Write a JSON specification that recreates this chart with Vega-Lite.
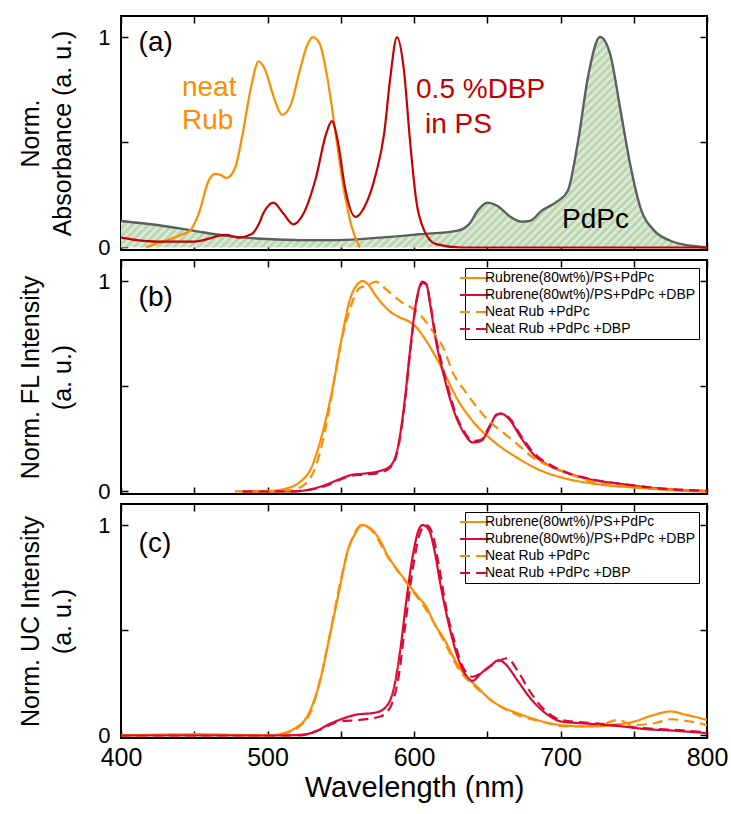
{
  "$schema": "https://vega.github.io/schema/vega-lite/v6.json",
  "padding": {"left": 17, "top": 14, "right": 5, "bottom": 5},
  "background": "white",
  "config": {
    "font": "Liberation Sans",
    "view": {"stroke": "black", "strokeWidth": 2},
    "axis": {"grid": false, "domain": false, "tickColor": "black", "tickWidth": 1.5, "tickSize": -7, "labelColor": "black", "titleColor": "black", "labelFont": "Liberation Sans", "titleFont": "Liberation Sans", "titleFontWeight": "normal", "labelFlush": false, "labelOverlap": false},
    "text": {"font": "Liberation Sans"},
    "line": {"strokeWidth": 2.2, "interpolate": "monotone"},
    "area": {"interpolate": "monotone"},
    "legend": {"orient": "top-right", "offset": 8, "strokeColor": "black", "fillColor": "white", "padding": 3, "labelFontSize": 14, "labelLimit": 400, "labelFont": "Liberation Sans", "labelColor": "black", "symbolType": "M-3,0H3", "symbolSize": 100, "symbolStrokeWidth": 2.5, "rowPadding": 3, "labelOffset": 3, "cornerRadius": 0, "strokeWidth": 1}
  },
  "datasets": {
    "rubabs": [
      {"wl": 417, "v": 0}, {"wl": 425, "v": 0.02}, {"wl": 432, "v": 0.035}, {"wl": 439, "v": 0.055}, {"wl": 447, "v": 0.08}, {"wl": 453, "v": 0.16}, {"wl": 460, "v": 0.32}, {"wl": 464, "v": 0.35}, {"wl": 468, "v": 0.345}, {"wl": 472, "v": 0.33}, {"wl": 478, "v": 0.38}, {"wl": 483, "v": 0.54}, {"wl": 489, "v": 0.77}, {"wl": 494, "v": 0.885}, {"wl": 498, "v": 0.85}, {"wl": 505, "v": 0.70}, {"wl": 510, "v": 0.63}, {"wl": 516, "v": 0.68}, {"wl": 522, "v": 0.84}, {"wl": 527, "v": 0.96}, {"wl": 531, "v": 1.0}, {"wl": 535.5, "v": 0.97}, {"wl": 541, "v": 0.80}, {"wl": 546.5, "v": 0.54}, {"wl": 552, "v": 0.28}, {"wl": 557.6, "v": 0.095}, {"wl": 563, "v": 0.0}
    ],
    "dbpabs": [
      {"wl": 400, "v": 0.047}, {"wl": 411, "v": 0.035}, {"wl": 425, "v": 0.028}, {"wl": 450, "v": 0.028}, {"wl": 461, "v": 0.044}, {"wl": 466, "v": 0.055}, {"wl": 472, "v": 0.06}, {"wl": 480, "v": 0.047}, {"wl": 489, "v": 0.063}, {"wl": 494, "v": 0.11}, {"wl": 497, "v": 0.16}, {"wl": 504, "v": 0.213}, {"wl": 511, "v": 0.16}, {"wl": 517.6, "v": 0.11}, {"wl": 524.5, "v": 0.16}, {"wl": 533, "v": 0.33}, {"wl": 540, "v": 0.54}, {"wl": 544, "v": 0.60}, {"wl": 548, "v": 0.505}, {"wl": 553, "v": 0.28}, {"wl": 560, "v": 0.145}, {"wl": 566, "v": 0.19}, {"wl": 574, "v": 0.35}, {"wl": 579.6, "v": 0.54}, {"wl": 583.7, "v": 0.80}, {"wl": 588.4, "v": 1.0}, {"wl": 593, "v": 0.85}, {"wl": 597.5, "v": 0.49}, {"wl": 601.6, "v": 0.22}, {"wl": 607, "v": 0.08}, {"wl": 615, "v": 0.016}, {"wl": 632, "v": 0}, {"wl": 800, "v": 0}
    ],
    "pdpcabs": [
      {"wl": 400, "v": 0.126}, {"wl": 425, "v": 0.107}, {"wl": 450, "v": 0.079}, {"wl": 472, "v": 0.055}, {"wl": 500, "v": 0.04}, {"wl": 522, "v": 0.035}, {"wl": 549, "v": 0.035}, {"wl": 577, "v": 0.047}, {"wl": 604, "v": 0.063}, {"wl": 629, "v": 0.079}, {"wl": 637.5, "v": 0.11}, {"wl": 644, "v": 0.18}, {"wl": 650, "v": 0.213}, {"wl": 657, "v": 0.197}, {"wl": 665, "v": 0.15}, {"wl": 673, "v": 0.123}, {"wl": 679, "v": 0.126}, {"wl": 687, "v": 0.174}, {"wl": 698, "v": 0.22}, {"wl": 705, "v": 0.27}, {"wl": 712, "v": 0.505}, {"wl": 719, "v": 0.82}, {"wl": 727, "v": 1.0}, {"wl": 734, "v": 0.916}, {"wl": 741, "v": 0.65}, {"wl": 748, "v": 0.38}, {"wl": 754.5, "v": 0.19}, {"wl": 764, "v": 0.08}, {"wl": 775, "v": 0.032}, {"wl": 789, "v": 0.008}, {"wl": 800, "v": 0}
    ],
    "labelsA": [
      {"wl": 412, "v": 0.97, "t": "(a)", "c": "k"},
      {"wl": 441.6, "v": 0.76, "t": "neat", "c": "rub"},
      {"wl": 441.6, "v": 0.60, "t": "Rub", "c": "rub"},
      {"wl": 601.4, "v": 0.75, "t": "0.5 %DBP", "c": "dbp"},
      {"wl": 607.5, "v": 0.58, "t": "in PS", "c": "dbp"},
      {"wl": 701, "v": 0.13, "t": "PdPc", "c": "k2"}
    ],
    "fl": [
      {"s": "Rubrene(80wt%)/PS+PdPc", "wl": 477.7, "v": 0}, {"s": "Rubrene(80wt%)/PS+PdPc", "wl": 499.7, "v": 0.002}, {"s": "Rubrene(80wt%)/PS+PdPc", "wl": 513.5, "v": 0.016}, {"s": "Rubrene(80wt%)/PS+PdPc", "wl": 521.8, "v": 0.043}, {"s": "Rubrene(80wt%)/PS+PdPc", "wl": 530, "v": 0.114}, {"s": "Rubrene(80wt%)/PS+PdPc", "wl": 538, "v": 0.29}, {"s": "Rubrene(80wt%)/PS+PdPc", "wl": 545, "v": 0.51}, {"s": "Rubrene(80wt%)/PS+PdPc", "wl": 550.7, "v": 0.73}, {"s": "Rubrene(80wt%)/PS+PdPc", "wl": 556, "v": 0.905}, {"s": "Rubrene(80wt%)/PS+PdPc", "wl": 561.7, "v": 0.987}, {"s": "Rubrene(80wt%)/PS+PdPc", "wl": 565, "v": 1.0}, {"s": "Rubrene(80wt%)/PS+PdPc", "wl": 568.6, "v": 0.984}, {"s": "Rubrene(80wt%)/PS+PdPc", "wl": 574, "v": 0.93}, {"s": "Rubrene(80wt%)/PS+PdPc", "wl": 582, "v": 0.865}, {"s": "Rubrene(80wt%)/PS+PdPc", "wl": 590.6, "v": 0.826}, {"s": "Rubrene(80wt%)/PS+PdPc", "wl": 596, "v": 0.81}, {"s": "Rubrene(80wt%)/PS+PdPc", "wl": 601.6, "v": 0.78}, {"s": "Rubrene(80wt%)/PS+PdPc", "wl": 607, "v": 0.73}, {"s": "Rubrene(80wt%)/PS+PdPc", "wl": 614, "v": 0.65}, {"s": "Rubrene(80wt%)/PS+PdPc", "wl": 621, "v": 0.557}, {"s": "Rubrene(80wt%)/PS+PdPc", "wl": 629, "v": 0.446}, {"s": "Rubrene(80wt%)/PS+PdPc", "wl": 640, "v": 0.335}, {"s": "Rubrene(80wt%)/PS+PdPc", "wl": 654, "v": 0.24}, {"s": "Rubrene(80wt%)/PS+PdPc", "wl": 670.5, "v": 0.16}, {"s": "Rubrene(80wt%)/PS+PdPc", "wl": 687, "v": 0.098}, {"s": "Rubrene(80wt%)/PS+PdPc", "wl": 701, "v": 0.066}, {"s": "Rubrene(80wt%)/PS+PdPc", "wl": 728, "v": 0.032}, {"s": "Rubrene(80wt%)/PS+PdPc", "wl": 756, "v": 0.016}, {"s": "Rubrene(80wt%)/PS+PdPc", "wl": 783.5, "v": 0.003}, {"s": "Rubrene(80wt%)/PS+PdPc", "wl": 800, "v": 0},
      {"s": "Rubrene(80wt%)/PS+PdPc +DBP", "wl": 483, "v": 0}, {"s": "Rubrene(80wt%)/PS+PdPc +DBP", "wl": 516, "v": 0}, {"s": "Rubrene(80wt%)/PS+PdPc +DBP", "wl": 530, "v": 0.011}, {"s": "Rubrene(80wt%)/PS+PdPc +DBP", "wl": 541, "v": 0.035}, {"s": "Rubrene(80wt%)/PS+PdPc +DBP", "wl": 549, "v": 0.058}, {"s": "Rubrene(80wt%)/PS+PdPc +DBP", "wl": 557.6, "v": 0.079}, {"s": "Rubrene(80wt%)/PS+PdPc +DBP", "wl": 566, "v": 0.085}, {"s": "Rubrene(80wt%)/PS+PdPc +DBP", "wl": 577, "v": 0.098}, {"s": "Rubrene(80wt%)/PS+PdPc +DBP", "wl": 584, "v": 0.122}, {"s": "Rubrene(80wt%)/PS+PdPc +DBP", "wl": 589, "v": 0.21}, {"s": "Rubrene(80wt%)/PS+PdPc +DBP", "wl": 593.4, "v": 0.415}, {"s": "Rubrene(80wt%)/PS+PdPc +DBP", "wl": 597.5, "v": 0.683}, {"s": "Rubrene(80wt%)/PS+PdPc +DBP", "wl": 601.6, "v": 0.905}, {"s": "Rubrene(80wt%)/PS+PdPc +DBP", "wl": 605.8, "v": 0.997}, {"s": "Rubrene(80wt%)/PS+PdPc +DBP", "wl": 608.5, "v": 0.984}, {"s": "Rubrene(80wt%)/PS+PdPc +DBP", "wl": 611, "v": 0.89}, {"s": "Rubrene(80wt%)/PS+PdPc +DBP", "wl": 615, "v": 0.715}, {"s": "Rubrene(80wt%)/PS+PdPc +DBP", "wl": 619.6, "v": 0.573}, {"s": "Rubrene(80wt%)/PS+PdPc +DBP", "wl": 623.7, "v": 0.462}, {"s": "Rubrene(80wt%)/PS+PdPc +DBP", "wl": 629, "v": 0.35}, {"s": "Rubrene(80wt%)/PS+PdPc +DBP", "wl": 634.7, "v": 0.272}, {"s": "Rubrene(80wt%)/PS+PdPc +DBP", "wl": 640, "v": 0.233}, {"s": "Rubrene(80wt%)/PS+PdPc +DBP", "wl": 645.7, "v": 0.24}, {"s": "Rubrene(80wt%)/PS+PdPc +DBP", "wl": 649.9, "v": 0.28}, {"s": "Rubrene(80wt%)/PS+PdPc +DBP", "wl": 656.7, "v": 0.367}, {"s": "Rubrene(80wt%)/PS+PdPc +DBP", "wl": 659.5, "v": 0.37}, {"s": "Rubrene(80wt%)/PS+PdPc +DBP", "wl": 665, "v": 0.343}, {"s": "Rubrene(80wt%)/PS+PdPc +DBP", "wl": 673, "v": 0.256}, {"s": "Rubrene(80wt%)/PS+PdPc +DBP", "wl": 681.5, "v": 0.177}, {"s": "Rubrene(80wt%)/PS+PdPc +DBP", "wl": 692.6, "v": 0.122}, {"s": "Rubrene(80wt%)/PS+PdPc +DBP", "wl": 703.6, "v": 0.09}, {"s": "Rubrene(80wt%)/PS+PdPc +DBP", "wl": 720, "v": 0.058}, {"s": "Rubrene(80wt%)/PS+PdPc +DBP", "wl": 742, "v": 0.035}, {"s": "Rubrene(80wt%)/PS+PdPc +DBP", "wl": 769.7, "v": 0.013}, {"s": "Rubrene(80wt%)/PS+PdPc +DBP", "wl": 800, "v": 0.003},
      {"s": "Neat Rub +PdPc", "wl": 488.7, "v": 0}, {"s": "Neat Rub +PdPc", "wl": 516, "v": 0.006}, {"s": "Neat Rub +PdPc", "wl": 527, "v": 0.043}, {"s": "Neat Rub +PdPc", "wl": 535.5, "v": 0.177}, {"s": "Neat Rub +PdPc", "wl": 542.4, "v": 0.40}, {"s": "Neat Rub +PdPc", "wl": 549, "v": 0.67}, {"s": "Neat Rub +PdPc", "wl": 556, "v": 0.86}, {"s": "Neat Rub +PdPc", "wl": 563, "v": 0.968}, {"s": "Neat Rub +PdPc", "wl": 567, "v": 0.976}, {"s": "Neat Rub +PdPc", "wl": 574, "v": 0.997}, {"s": "Neat Rub +PdPc", "wl": 581, "v": 0.96}, {"s": "Neat Rub +PdPc", "wl": 590.6, "v": 0.905}, {"s": "Neat Rub +PdPc", "wl": 601.6, "v": 0.857}, {"s": "Neat Rub +PdPc", "wl": 612.7, "v": 0.763}, {"s": "Neat Rub +PdPc", "wl": 621, "v": 0.668}, {"s": "Neat Rub +PdPc", "wl": 626, "v": 0.573}, {"s": "Neat Rub +PdPc", "wl": 634.7, "v": 0.478}, {"s": "Neat Rub +PdPc", "wl": 643, "v": 0.40}, {"s": "Neat Rub +PdPc", "wl": 651, "v": 0.335}, {"s": "Neat Rub +PdPc", "wl": 659.5, "v": 0.288}, {"s": "Neat Rub +PdPc", "wl": 670.5, "v": 0.225}, {"s": "Neat Rub +PdPc", "wl": 681.5, "v": 0.16}, {"s": "Neat Rub +PdPc", "wl": 695, "v": 0.114}, {"s": "Neat Rub +PdPc", "wl": 703.6, "v": 0.09}, {"s": "Neat Rub +PdPc", "wl": 720, "v": 0.05}, {"s": "Neat Rub +PdPc", "wl": 742, "v": 0.027}, {"s": "Neat Rub +PdPc", "wl": 769.7, "v": 0.011}, {"s": "Neat Rub +PdPc", "wl": 800, "v": 0.003},
      {"s": "Neat Rub +PdPc +DBP", "wl": 483, "v": 0}, {"s": "Neat Rub +PdPc +DBP", "wl": 516, "v": 0}, {"s": "Neat Rub +PdPc +DBP", "wl": 530, "v": 0.01}, {"s": "Neat Rub +PdPc +DBP", "wl": 541, "v": 0.03}, {"s": "Neat Rub +PdPc +DBP", "wl": 549, "v": 0.055}, {"s": "Neat Rub +PdPc +DBP", "wl": 557.6, "v": 0.075}, {"s": "Neat Rub +PdPc +DBP", "wl": 566, "v": 0.08}, {"s": "Neat Rub +PdPc +DBP", "wl": 577, "v": 0.09}, {"s": "Neat Rub +PdPc +DBP", "wl": 584, "v": 0.115}, {"s": "Neat Rub +PdPc +DBP", "wl": 589, "v": 0.2}, {"s": "Neat Rub +PdPc +DBP", "wl": 593.4, "v": 0.40}, {"s": "Neat Rub +PdPc +DBP", "wl": 597.5, "v": 0.67}, {"s": "Neat Rub +PdPc +DBP", "wl": 601.6, "v": 0.9}, {"s": "Neat Rub +PdPc +DBP", "wl": 605.8, "v": 0.99}, {"s": "Neat Rub +PdPc +DBP", "wl": 608.5, "v": 0.985}, {"s": "Neat Rub +PdPc +DBP", "wl": 611, "v": 0.9}, {"s": "Neat Rub +PdPc +DBP", "wl": 615, "v": 0.73}, {"s": "Neat Rub +PdPc +DBP", "wl": 619.6, "v": 0.59}, {"s": "Neat Rub +PdPc +DBP", "wl": 623.7, "v": 0.48}, {"s": "Neat Rub +PdPc +DBP", "wl": 629, "v": 0.36}, {"s": "Neat Rub +PdPc +DBP", "wl": 634.7, "v": 0.28}, {"s": "Neat Rub +PdPc +DBP", "wl": 640, "v": 0.24}, {"s": "Neat Rub +PdPc +DBP", "wl": 645.7, "v": 0.245}, {"s": "Neat Rub +PdPc +DBP", "wl": 649.9, "v": 0.29}, {"s": "Neat Rub +PdPc +DBP", "wl": 656.7, "v": 0.365}, {"s": "Neat Rub +PdPc +DBP", "wl": 660, "v": 0.37}, {"s": "Neat Rub +PdPc +DBP", "wl": 665, "v": 0.35}, {"s": "Neat Rub +PdPc +DBP", "wl": 673, "v": 0.265}, {"s": "Neat Rub +PdPc +DBP", "wl": 681.5, "v": 0.185}, {"s": "Neat Rub +PdPc +DBP", "wl": 692.6, "v": 0.128}, {"s": "Neat Rub +PdPc +DBP", "wl": 703.6, "v": 0.092}, {"s": "Neat Rub +PdPc +DBP", "wl": 720, "v": 0.06}, {"s": "Neat Rub +PdPc +DBP", "wl": 742, "v": 0.036}, {"s": "Neat Rub +PdPc +DBP", "wl": 769.7, "v": 0.014}, {"s": "Neat Rub +PdPc +DBP", "wl": 800, "v": 0.003}
    ],
    "uc": [
      {"s": "Rubrene(80wt%)/PS+PdPc", "wl": 400, "v": 0}, {"s": "Rubrene(80wt%)/PS+PdPc", "wl": 453, "v": 0.006}, {"s": "Rubrene(80wt%)/PS+PdPc", "wl": 500, "v": 0}, {"s": "Rubrene(80wt%)/PS+PdPc", "wl": 510.7, "v": 0.011}, {"s": "Rubrene(80wt%)/PS+PdPc", "wl": 519, "v": 0.035}, {"s": "Rubrene(80wt%)/PS+PdPc", "wl": 527, "v": 0.09}, {"s": "Rubrene(80wt%)/PS+PdPc", "wl": 535.5, "v": 0.25}, {"s": "Rubrene(80wt%)/PS+PdPc", "wl": 542.4, "v": 0.47}, {"s": "Rubrene(80wt%)/PS+PdPc", "wl": 549, "v": 0.69}, {"s": "Rubrene(80wt%)/PS+PdPc", "wl": 554.8, "v": 0.88}, {"s": "Rubrene(80wt%)/PS+PdPc", "wl": 560, "v": 0.96}, {"s": "Rubrene(80wt%)/PS+PdPc", "wl": 564.5, "v": 1.0}, {"s": "Rubrene(80wt%)/PS+PdPc", "wl": 571, "v": 0.98}, {"s": "Rubrene(80wt%)/PS+PdPc", "wl": 577, "v": 0.925}, {"s": "Rubrene(80wt%)/PS+PdPc", "wl": 582, "v": 0.855}, {"s": "Rubrene(80wt%)/PS+PdPc", "wl": 589, "v": 0.784}, {"s": "Rubrene(80wt%)/PS+PdPc", "wl": 596, "v": 0.72}, {"s": "Rubrene(80wt%)/PS+PdPc", "wl": 603, "v": 0.658}, {"s": "Rubrene(80wt%)/PS+PdPc", "wl": 608.5, "v": 0.61}, {"s": "Rubrene(80wt%)/PS+PdPc", "wl": 614, "v": 0.53}, {"s": "Rubrene(80wt%)/PS+PdPc", "wl": 621, "v": 0.453}, {"s": "Rubrene(80wt%)/PS+PdPc", "wl": 628, "v": 0.358}, {"s": "Rubrene(80wt%)/PS+PdPc", "wl": 634.7, "v": 0.287}, {"s": "Rubrene(80wt%)/PS+PdPc", "wl": 643, "v": 0.232}, {"s": "Rubrene(80wt%)/PS+PdPc", "wl": 651, "v": 0.177}, {"s": "Rubrene(80wt%)/PS+PdPc", "wl": 659.5, "v": 0.137}, {"s": "Rubrene(80wt%)/PS+PdPc", "wl": 670.5, "v": 0.106}, {"s": "Rubrene(80wt%)/PS+PdPc", "wl": 681.5, "v": 0.079}, {"s": "Rubrene(80wt%)/PS+PdPc", "wl": 692.6, "v": 0.058}, {"s": "Rubrene(80wt%)/PS+PdPc", "wl": 703.6, "v": 0.047}, {"s": "Rubrene(80wt%)/PS+PdPc", "wl": 720, "v": 0.043}, {"s": "Rubrene(80wt%)/PS+PdPc", "wl": 736.6, "v": 0.05}, {"s": "Rubrene(80wt%)/PS+PdPc", "wl": 750, "v": 0.066}, {"s": "Rubrene(80wt%)/PS+PdPc", "wl": 764, "v": 0.098}, {"s": "Rubrene(80wt%)/PS+PdPc", "wl": 775, "v": 0.114}, {"s": "Rubrene(80wt%)/PS+PdPc", "wl": 786, "v": 0.098}, {"s": "Rubrene(80wt%)/PS+PdPc", "wl": 800, "v": 0.074},
      {"s": "Rubrene(80wt%)/PS+PdPc +DBP", "wl": 400, "v": 0}, {"s": "Rubrene(80wt%)/PS+PdPc +DBP", "wl": 508, "v": 0}, {"s": "Rubrene(80wt%)/PS+PdPc +DBP", "wl": 522, "v": 0.003}, {"s": "Rubrene(80wt%)/PS+PdPc +DBP", "wl": 533, "v": 0.019}, {"s": "Rubrene(80wt%)/PS+PdPc +DBP", "wl": 541, "v": 0.05}, {"s": "Rubrene(80wt%)/PS+PdPc +DBP", "wl": 549, "v": 0.074}, {"s": "Rubrene(80wt%)/PS+PdPc +DBP", "wl": 560, "v": 0.098}, {"s": "Rubrene(80wt%)/PS+PdPc +DBP", "wl": 574, "v": 0.109}, {"s": "Rubrene(80wt%)/PS+PdPc +DBP", "wl": 581, "v": 0.137}, {"s": "Rubrene(80wt%)/PS+PdPc +DBP", "wl": 586.5, "v": 0.232}, {"s": "Rubrene(80wt%)/PS+PdPc +DBP", "wl": 590.6, "v": 0.405}, {"s": "Rubrene(80wt%)/PS+PdPc +DBP", "wl": 594.8, "v": 0.642}, {"s": "Rubrene(80wt%)/PS+PdPc +DBP", "wl": 599, "v": 0.847}, {"s": "Rubrene(80wt%)/PS+PdPc +DBP", "wl": 603, "v": 0.973}, {"s": "Rubrene(80wt%)/PS+PdPc +DBP", "wl": 605.8, "v": 1.0}, {"s": "Rubrene(80wt%)/PS+PdPc +DBP", "wl": 610, "v": 0.98}, {"s": "Rubrene(80wt%)/PS+PdPc +DBP", "wl": 614, "v": 0.878}, {"s": "Rubrene(80wt%)/PS+PdPc +DBP", "wl": 618, "v": 0.72}, {"s": "Rubrene(80wt%)/PS+PdPc +DBP", "wl": 623.7, "v": 0.53}, {"s": "Rubrene(80wt%)/PS+PdPc +DBP", "wl": 629, "v": 0.39}, {"s": "Rubrene(80wt%)/PS+PdPc +DBP", "wl": 634.7, "v": 0.295}, {"s": "Rubrene(80wt%)/PS+PdPc +DBP", "wl": 640, "v": 0.26}, {"s": "Rubrene(80wt%)/PS+PdPc +DBP", "wl": 645.7, "v": 0.295}, {"s": "Rubrene(80wt%)/PS+PdPc +DBP", "wl": 652.6, "v": 0.334}, {"s": "Rubrene(80wt%)/PS+PdPc +DBP", "wl": 658, "v": 0.358}, {"s": "Rubrene(80wt%)/PS+PdPc +DBP", "wl": 662, "v": 0.342}, {"s": "Rubrene(80wt%)/PS+PdPc +DBP", "wl": 670.5, "v": 0.263}, {"s": "Rubrene(80wt%)/PS+PdPc +DBP", "wl": 678.5, "v": 0.185}, {"s": "Rubrene(80wt%)/PS+PdPc +DBP", "wl": 689.8, "v": 0.106}, {"s": "Rubrene(80wt%)/PS+PdPc +DBP", "wl": 700.8, "v": 0.066}, {"s": "Rubrene(80wt%)/PS+PdPc +DBP", "wl": 714.6, "v": 0.058}, {"s": "Rubrene(80wt%)/PS+PdPc +DBP", "wl": 731, "v": 0.05}, {"s": "Rubrene(80wt%)/PS+PdPc +DBP", "wl": 742, "v": 0.043}, {"s": "Rubrene(80wt%)/PS+PdPc +DBP", "wl": 758.7, "v": 0.03}, {"s": "Rubrene(80wt%)/PS+PdPc +DBP", "wl": 775, "v": 0.024}, {"s": "Rubrene(80wt%)/PS+PdPc +DBP", "wl": 800, "v": 0.011},
      {"s": "Neat Rub +PdPc", "wl": 400, "v": 0}, {"s": "Neat Rub +PdPc", "wl": 500, "v": 0}, {"s": "Neat Rub +PdPc", "wl": 510.7, "v": 0.008}, {"s": "Neat Rub +PdPc", "wl": 521.8, "v": 0.043}, {"s": "Neat Rub +PdPc", "wl": 530, "v": 0.12}, {"s": "Neat Rub +PdPc", "wl": 537, "v": 0.295}, {"s": "Neat Rub +PdPc", "wl": 544, "v": 0.53}, {"s": "Neat Rub +PdPc", "wl": 551, "v": 0.77}, {"s": "Neat Rub +PdPc", "wl": 558, "v": 0.94}, {"s": "Neat Rub +PdPc", "wl": 564.5, "v": 1.0}, {"s": "Neat Rub +PdPc", "wl": 571, "v": 0.975}, {"s": "Neat Rub +PdPc", "wl": 582, "v": 0.85}, {"s": "Neat Rub +PdPc", "wl": 596, "v": 0.715}, {"s": "Neat Rub +PdPc", "wl": 610, "v": 0.58}, {"s": "Neat Rub +PdPc", "wl": 621, "v": 0.44}, {"s": "Neat Rub +PdPc", "wl": 632, "v": 0.30}, {"s": "Neat Rub +PdPc", "wl": 643, "v": 0.225}, {"s": "Neat Rub +PdPc", "wl": 654, "v": 0.16}, {"s": "Neat Rub +PdPc", "wl": 670.5, "v": 0.098}, {"s": "Neat Rub +PdPc", "wl": 687, "v": 0.066}, {"s": "Neat Rub +PdPc", "wl": 703.6, "v": 0.043}, {"s": "Neat Rub +PdPc", "wl": 720, "v": 0.043}, {"s": "Neat Rub +PdPc", "wl": 731, "v": 0.058}, {"s": "Neat Rub +PdPc", "wl": 739, "v": 0.074}, {"s": "Neat Rub +PdPc", "wl": 750, "v": 0.05}, {"s": "Neat Rub +PdPc", "wl": 764, "v": 0.058}, {"s": "Neat Rub +PdPc", "wl": 775, "v": 0.077}, {"s": "Neat Rub +PdPc", "wl": 789, "v": 0.066}, {"s": "Neat Rub +PdPc", "wl": 800, "v": 0.05},
      {"s": "Neat Rub +PdPc +DBP", "wl": 400, "v": 0}, {"s": "Neat Rub +PdPc +DBP", "wl": 522, "v": 0}, {"s": "Neat Rub +PdPc +DBP", "wl": 535.5, "v": 0.027}, {"s": "Neat Rub +PdPc +DBP", "wl": 549, "v": 0.066}, {"s": "Neat Rub +PdPc +DBP", "wl": 563, "v": 0.074}, {"s": "Neat Rub +PdPc +DBP", "wl": 577, "v": 0.09}, {"s": "Neat Rub +PdPc +DBP", "wl": 584, "v": 0.137}, {"s": "Neat Rub +PdPc +DBP", "wl": 589.5, "v": 0.28}, {"s": "Neat Rub +PdPc +DBP", "wl": 593.6, "v": 0.5}, {"s": "Neat Rub +PdPc +DBP", "wl": 599, "v": 0.785}, {"s": "Neat Rub +PdPc +DBP", "wl": 604.7, "v": 0.973}, {"s": "Neat Rub +PdPc +DBP", "wl": 608.5, "v": 1.0}, {"s": "Neat Rub +PdPc +DBP", "wl": 612.7, "v": 0.957}, {"s": "Neat Rub +PdPc +DBP", "wl": 616.8, "v": 0.815}, {"s": "Neat Rub +PdPc +DBP", "wl": 622.3, "v": 0.594}, {"s": "Neat Rub +PdPc +DBP", "wl": 628, "v": 0.437}, {"s": "Neat Rub +PdPc +DBP", "wl": 633.3, "v": 0.326}, {"s": "Neat Rub +PdPc +DBP", "wl": 640, "v": 0.279}, {"s": "Neat Rub +PdPc +DBP", "wl": 648.5, "v": 0.31}, {"s": "Neat Rub +PdPc +DBP", "wl": 656.7, "v": 0.35}, {"s": "Neat Rub +PdPc +DBP", "wl": 663.6, "v": 0.367}, {"s": "Neat Rub +PdPc +DBP", "wl": 670.5, "v": 0.31}, {"s": "Neat Rub +PdPc +DBP", "wl": 678.5, "v": 0.216}, {"s": "Neat Rub +PdPc +DBP", "wl": 687, "v": 0.137}, {"s": "Neat Rub +PdPc +DBP", "wl": 700.8, "v": 0.074}, {"s": "Neat Rub +PdPc +DBP", "wl": 728, "v": 0.055}, {"s": "Neat Rub +PdPc +DBP", "wl": 756, "v": 0.035}, {"s": "Neat Rub +PdPc +DBP", "wl": 783.5, "v": 0.024}, {"s": "Neat Rub +PdPc +DBP", "wl": 800, "v": 0.014}
    ]
  },
  "spacing": 10,
  "bounds": "flush",
  "resolve": {"scale": {"color": "independent", "strokeDash": "independent"}},
  "vconcat": [
    {
      "width": 586, "height": 234,
      "encoding": {
        "x": {"field": "wl", "type": "quantitative", "scale": {"domain": [400, 800], "nice": false, "zero": false}, "axis": null},
        "y": {"field": "v", "type": "quantitative", "scale": {"domain": [-0.012, 1.1], "nice": false, "zero": false}, "axis": null}
      },
      "resolve": {"axis": {"x": "independent", "y": "independent"}},
      "layer": [
        {"data": {"name": "pdpcabs"}, "mark": {"type": "area", "fill": {"gradient": "linear", "x1": 0, "y1": 0, "x2": 1.204, "y2": 0.432, "stops": [
          {"offset": 0, "color": "#b2d0a9"}, {"offset": 0.005, "color": "#e2f0dd"}, {"offset": 0.01, "color": "#b2d0a9"}, {"offset": 0.015, "color": "#e2f0dd"}, {"offset": 0.02, "color": "#b2d0a9"}, {"offset": 0.025, "color": "#e2f0dd"}, {"offset": 0.03, "color": "#b2d0a9"}, {"offset": 0.035, "color": "#e2f0dd"}, {"offset": 0.04, "color": "#b2d0a9"}, {"offset": 0.045, "color": "#e2f0dd"},
          {"offset": 0.05, "color": "#b2d0a9"}, {"offset": 0.055, "color": "#e2f0dd"}, {"offset": 0.06, "color": "#b2d0a9"}, {"offset": 0.065, "color": "#e2f0dd"}, {"offset": 0.07, "color": "#b2d0a9"}, {"offset": 0.075, "color": "#e2f0dd"}, {"offset": 0.08, "color": "#b2d0a9"}, {"offset": 0.085, "color": "#e2f0dd"}, {"offset": 0.09, "color": "#b2d0a9"}, {"offset": 0.095, "color": "#e2f0dd"},
          {"offset": 0.1, "color": "#b2d0a9"}, {"offset": 0.105, "color": "#e2f0dd"}, {"offset": 0.11, "color": "#b2d0a9"}, {"offset": 0.115, "color": "#e2f0dd"}, {"offset": 0.12, "color": "#b2d0a9"}, {"offset": 0.125, "color": "#e2f0dd"}, {"offset": 0.13, "color": "#b2d0a9"}, {"offset": 0.135, "color": "#e2f0dd"}, {"offset": 0.14, "color": "#b2d0a9"}, {"offset": 0.145, "color": "#e2f0dd"},
          {"offset": 0.15, "color": "#b2d0a9"}, {"offset": 0.155, "color": "#e2f0dd"}, {"offset": 0.16, "color": "#b2d0a9"}, {"offset": 0.165, "color": "#e2f0dd"}, {"offset": 0.17, "color": "#b2d0a9"}, {"offset": 0.175, "color": "#e2f0dd"}, {"offset": 0.18, "color": "#b2d0a9"}, {"offset": 0.185, "color": "#e2f0dd"}, {"offset": 0.19, "color": "#b2d0a9"}, {"offset": 0.195, "color": "#e2f0dd"},
          {"offset": 0.2, "color": "#b2d0a9"}, {"offset": 0.205, "color": "#e2f0dd"}, {"offset": 0.21, "color": "#b2d0a9"}, {"offset": 0.215, "color": "#e2f0dd"}, {"offset": 0.22, "color": "#b2d0a9"}, {"offset": 0.225, "color": "#e2f0dd"}, {"offset": 0.23, "color": "#b2d0a9"}, {"offset": 0.235, "color": "#e2f0dd"}, {"offset": 0.24, "color": "#b2d0a9"}, {"offset": 0.245, "color": "#e2f0dd"},
          {"offset": 0.25, "color": "#b2d0a9"}, {"offset": 0.255, "color": "#e2f0dd"}, {"offset": 0.26, "color": "#b2d0a9"}, {"offset": 0.265, "color": "#e2f0dd"}, {"offset": 0.27, "color": "#b2d0a9"}, {"offset": 0.275, "color": "#e2f0dd"}, {"offset": 0.28, "color": "#b2d0a9"}, {"offset": 0.285, "color": "#e2f0dd"}, {"offset": 0.29, "color": "#b2d0a9"}, {"offset": 0.295, "color": "#e2f0dd"},
          {"offset": 0.3, "color": "#b2d0a9"}, {"offset": 0.305, "color": "#e2f0dd"}, {"offset": 0.31, "color": "#b2d0a9"}, {"offset": 0.315, "color": "#e2f0dd"}, {"offset": 0.32, "color": "#b2d0a9"}, {"offset": 0.325, "color": "#e2f0dd"}, {"offset": 0.33, "color": "#b2d0a9"}, {"offset": 0.335, "color": "#e2f0dd"}, {"offset": 0.34, "color": "#b2d0a9"}, {"offset": 0.345, "color": "#e2f0dd"},
          {"offset": 0.35, "color": "#b2d0a9"}, {"offset": 0.355, "color": "#e2f0dd"}, {"offset": 0.36, "color": "#b2d0a9"}, {"offset": 0.365, "color": "#e2f0dd"}, {"offset": 0.37, "color": "#b2d0a9"}, {"offset": 0.375, "color": "#e2f0dd"}, {"offset": 0.38, "color": "#b2d0a9"}, {"offset": 0.385, "color": "#e2f0dd"}, {"offset": 0.39, "color": "#b2d0a9"}, {"offset": 0.395, "color": "#e2f0dd"},
          {"offset": 0.4, "color": "#b2d0a9"}, {"offset": 0.405, "color": "#e2f0dd"}, {"offset": 0.41, "color": "#b2d0a9"}, {"offset": 0.415, "color": "#e2f0dd"}, {"offset": 0.42, "color": "#b2d0a9"}, {"offset": 0.425, "color": "#e2f0dd"}, {"offset": 0.43, "color": "#b2d0a9"}, {"offset": 0.435, "color": "#e2f0dd"}, {"offset": 0.44, "color": "#b2d0a9"}, {"offset": 0.445, "color": "#e2f0dd"},
          {"offset": 0.45, "color": "#b2d0a9"}, {"offset": 0.455, "color": "#e2f0dd"}, {"offset": 0.46, "color": "#b2d0a9"}, {"offset": 0.465, "color": "#e2f0dd"}, {"offset": 0.47, "color": "#b2d0a9"}, {"offset": 0.475, "color": "#e2f0dd"}, {"offset": 0.48, "color": "#b2d0a9"}, {"offset": 0.485, "color": "#e2f0dd"}, {"offset": 0.49, "color": "#b2d0a9"}, {"offset": 0.495, "color": "#e2f0dd"},
          {"offset": 0.5, "color": "#b2d0a9"}, {"offset": 0.505, "color": "#e2f0dd"}, {"offset": 0.51, "color": "#b2d0a9"}, {"offset": 0.515, "color": "#e2f0dd"}, {"offset": 0.52, "color": "#b2d0a9"}, {"offset": 0.525, "color": "#e2f0dd"}, {"offset": 0.53, "color": "#b2d0a9"}, {"offset": 0.535, "color": "#e2f0dd"}, {"offset": 0.54, "color": "#b2d0a9"}, {"offset": 0.545, "color": "#e2f0dd"},
          {"offset": 0.55, "color": "#b2d0a9"}, {"offset": 0.555, "color": "#e2f0dd"}, {"offset": 0.56, "color": "#b2d0a9"}, {"offset": 0.565, "color": "#e2f0dd"}, {"offset": 0.57, "color": "#b2d0a9"}, {"offset": 0.575, "color": "#e2f0dd"}, {"offset": 0.58, "color": "#b2d0a9"}, {"offset": 0.585, "color": "#e2f0dd"}, {"offset": 0.59, "color": "#b2d0a9"}, {"offset": 0.595, "color": "#e2f0dd"},
          {"offset": 0.6, "color": "#b2d0a9"}, {"offset": 0.605, "color": "#e2f0dd"}, {"offset": 0.61, "color": "#b2d0a9"}, {"offset": 0.615, "color": "#e2f0dd"}, {"offset": 0.62, "color": "#b2d0a9"}, {"offset": 0.625, "color": "#e2f0dd"}, {"offset": 0.63, "color": "#b2d0a9"}, {"offset": 0.635, "color": "#e2f0dd"}, {"offset": 0.64, "color": "#b2d0a9"}, {"offset": 0.645, "color": "#e2f0dd"},
          {"offset": 0.65, "color": "#b2d0a9"}, {"offset": 0.655, "color": "#e2f0dd"}, {"offset": 0.66, "color": "#b2d0a9"}, {"offset": 0.665, "color": "#e2f0dd"}, {"offset": 0.67, "color": "#b2d0a9"}, {"offset": 0.675, "color": "#e2f0dd"}, {"offset": 0.68, "color": "#b2d0a9"}, {"offset": 0.685, "color": "#e2f0dd"}, {"offset": 0.69, "color": "#b2d0a9"}, {"offset": 0.695, "color": "#e2f0dd"},
          {"offset": 0.7, "color": "#b2d0a9"}, {"offset": 0.705, "color": "#e2f0dd"}, {"offset": 0.71, "color": "#b2d0a9"}, {"offset": 0.715, "color": "#e2f0dd"}, {"offset": 0.72, "color": "#b2d0a9"}, {"offset": 0.725, "color": "#e2f0dd"}, {"offset": 0.73, "color": "#b2d0a9"}, {"offset": 0.735, "color": "#e2f0dd"}, {"offset": 0.74, "color": "#b2d0a9"}, {"offset": 0.745, "color": "#e2f0dd"},
          {"offset": 0.75, "color": "#b2d0a9"}, {"offset": 0.755, "color": "#e2f0dd"}, {"offset": 0.76, "color": "#b2d0a9"}, {"offset": 0.765, "color": "#e2f0dd"}, {"offset": 0.77, "color": "#b2d0a9"}, {"offset": 0.775, "color": "#e2f0dd"}, {"offset": 0.78, "color": "#b2d0a9"}, {"offset": 0.785, "color": "#e2f0dd"}, {"offset": 0.79, "color": "#b2d0a9"}, {"offset": 0.795, "color": "#e2f0dd"},
          {"offset": 0.8, "color": "#b2d0a9"}, {"offset": 0.805, "color": "#e2f0dd"}, {"offset": 0.81, "color": "#b2d0a9"}, {"offset": 0.815, "color": "#e2f0dd"}, {"offset": 0.82, "color": "#b2d0a9"}, {"offset": 0.825, "color": "#e2f0dd"}, {"offset": 0.83, "color": "#b2d0a9"}, {"offset": 0.835, "color": "#e2f0dd"}, {"offset": 0.84, "color": "#b2d0a9"}, {"offset": 0.845, "color": "#e2f0dd"},
          {"offset": 0.85, "color": "#b2d0a9"}, {"offset": 0.855, "color": "#e2f0dd"}, {"offset": 0.86, "color": "#b2d0a9"}, {"offset": 0.865, "color": "#e2f0dd"}, {"offset": 0.87, "color": "#b2d0a9"}, {"offset": 0.875, "color": "#e2f0dd"}, {"offset": 0.88, "color": "#b2d0a9"}, {"offset": 0.885, "color": "#e2f0dd"}, {"offset": 0.89, "color": "#b2d0a9"}, {"offset": 0.895, "color": "#e2f0dd"},
          {"offset": 0.9, "color": "#b2d0a9"}, {"offset": 0.905, "color": "#e2f0dd"}, {"offset": 0.91, "color": "#b2d0a9"}, {"offset": 0.915, "color": "#e2f0dd"}, {"offset": 0.92, "color": "#b2d0a9"}, {"offset": 0.925, "color": "#e2f0dd"}, {"offset": 0.93, "color": "#b2d0a9"}, {"offset": 0.935, "color": "#e2f0dd"}, {"offset": 0.94, "color": "#b2d0a9"}, {"offset": 0.945, "color": "#e2f0dd"},
          {"offset": 0.95, "color": "#b2d0a9"}, {"offset": 0.955, "color": "#e2f0dd"}, {"offset": 0.96, "color": "#b2d0a9"}, {"offset": 0.965, "color": "#e2f0dd"}, {"offset": 0.97, "color": "#b2d0a9"}, {"offset": 0.975, "color": "#e2f0dd"}, {"offset": 0.98, "color": "#b2d0a9"}, {"offset": 0.985, "color": "#e2f0dd"}, {"offset": 0.99, "color": "#b2d0a9"}, {"offset": 0.995, "color": "#e2f0dd"},
          {"offset": 1, "color": "#b2d0a9"}
        ]}}},
        {"data": {"name": "pdpcabs"}, "mark": {"type": "line", "color": "#5e5e5e", "strokeWidth": 2.4},
          "encoding": {
            "x": {"field": "wl", "type": "quantitative", "scale": {"domain": [400, 800], "nice": false, "zero": false}, "axis": {"orient": "bottom", "values": [400, 450, 500, 550, 600, 650, 700, 750, 800], "labels": false, "title": null, "minExtent": 0, "maxExtent": 0}},
            "y": {"field": "v", "type": "quantitative", "scale": {"domain": [-0.012, 1.1], "nice": false, "zero": false}, "axis": {"orient": "left", "values": [0, 0.5, 1], "labelExpr": "datum.value == 0 ? '0' : datum.value == 1 ? '1' : ''", "labelFontSize": 22, "labelPadding": 18, "title": ["Norm.", "Absorbance (a. u.)"], "titleFontSize": 25, "titleLineHeight": 32, "titlePadding": 22}}
          }},
        {"data": {"name": "rubabs"}, "mark": {"type": "line", "color": "#ff8c00"},
          "encoding": {
            "x": {"field": "wl", "type": "quantitative", "scale": {"domain": [400, 800], "nice": false, "zero": false}, "axis": {"orient": "top", "values": [400, 450, 500, 550, 600, 650, 700, 750, 800], "labels": false, "title": null, "minExtent": 0, "maxExtent": 0}},
            "y": {"field": "v", "type": "quantitative", "scale": {"domain": [-0.012, 1.1], "nice": false, "zero": false}, "axis": {"orient": "right", "values": [0, 0.5, 1], "labels": false, "title": null, "minExtent": 0, "maxExtent": 0}}
          }},
        {"data": {"name": "dbpabs"}, "mark": {"type": "line", "color": "#c40000"}},
        {"data": {"name": "labelsA"}, "mark": {"type": "text", "align": "left", "baseline": "middle"},
          "encoding": {
            "text": {"field": "t"},
            "size": {"field": "c", "type": "nominal", "scale": {"domain": ["k", "rub", "dbp", "k2"], "range": [28, 28, 25, 28]}, "legend": null},
            "color": {"field": "c", "type": "nominal", "scale": {"domain": ["k", "rub", "dbp", "k2"], "range": ["#000000", "#ff8c00", "#c40000", "#000000"]}, "legend": null}
          }}
      ]
    },
    {
      "width": 586, "height": 234,
      "data": {"name": "fl"},
      "encoding": {
        "x": {"field": "wl", "type": "quantitative", "scale": {"domain": [400, 800], "nice": false, "zero": false}, "axis": null},
        "y": {"field": "v", "type": "quantitative", "scale": {"domain": [-0.012, 1.1], "nice": false, "zero": false}, "axis": null}
      },
      "resolve": {"axis": {"x": "independent", "y": "independent"}},
      "layer": [
        {"mark": {"type": "line"},
          "encoding": {
            "x": {"field": "wl", "type": "quantitative", "scale": {"domain": [400, 800], "nice": false, "zero": false}, "axis": {"orient": "bottom", "values": [400, 450, 500, 550, 600, 650, 700, 750, 800], "labels": false, "title": null, "minExtent": 0, "maxExtent": 0}},
            "y": {"field": "v", "type": "quantitative", "scale": {"domain": [-0.012, 1.1], "nice": false, "zero": false}, "axis": {"orient": "left", "values": [0, 0.5, 1], "labelExpr": "datum.value == 0 ? '0' : datum.value == 1 ? '1' : ''", "labelFontSize": 22, "labelPadding": 18, "title": ["Norm. FL Intensity", "(a. u.)"], "titleFontSize": 25, "titleLineHeight": 32, "titlePadding": 22}},
            "color": {"field": "s", "type": "nominal", "scale": {"domain": ["Rubrene(80wt%)/PS+PdPc", "Rubrene(80wt%)/PS+PdPc +DBP", "Neat Rub +PdPc", "Neat Rub +PdPc +DBP"], "range": ["#ff8c00", "#dc0a32", "#ff8c00", "#dc0a32"]}, "legend": {"title": null}},
            "strokeDash": {"field": "s", "type": "nominal", "scale": {"domain": ["Rubrene(80wt%)/PS+PdPc", "Rubrene(80wt%)/PS+PdPc +DBP", "Neat Rub +PdPc", "Neat Rub +PdPc +DBP"], "range": [[1, 0], [1, 0], [10, 6], [10, 6]]}, "legend": {"title": null}}
          }},
        {"data": {"values": [{"wl": 412, "v": 0.92, "t": "(b)"}]}, "mark": {"type": "text", "align": "left", "baseline": "middle", "fontSize": 28, "color": "black"},
          "encoding": {
            "text": {"field": "t"},
            "x": {"field": "wl", "type": "quantitative", "scale": {"domain": [400, 800], "nice": false, "zero": false}, "axis": {"orient": "top", "values": [400, 450, 500, 550, 600, 650, 700, 750, 800], "labels": false, "title": null, "minExtent": 0, "maxExtent": 0}},
            "y": {"field": "v", "type": "quantitative", "scale": {"domain": [-0.012, 1.1], "nice": false, "zero": false}, "axis": {"orient": "right", "values": [0, 0.5, 1], "labels": false, "title": null, "minExtent": 0, "maxExtent": 0}}
          }}
      ]
    },
    {
      "width": 586, "height": 234,
      "data": {"name": "uc"},
      "encoding": {
        "x": {"field": "wl", "type": "quantitative", "scale": {"domain": [400, 800], "nice": false, "zero": false}, "axis": null},
        "y": {"field": "v", "type": "quantitative", "scale": {"domain": [-0.012, 1.1], "nice": false, "zero": false}, "axis": null}
      },
      "resolve": {"axis": {"x": "independent", "y": "independent"}},
      "layer": [
        {"mark": {"type": "line"},
          "encoding": {
            "x": {"field": "wl", "type": "quantitative", "scale": {"domain": [400, 800], "nice": false, "zero": false}, "axis": {"orient": "bottom", "values": [400, 450, 500, 550, 600, 650, 700, 750, 800], "labelExpr": "datum.value % 100 == 0 ? datum.label : ''", "labelFontSize": 25, "labelPadding": 14, "title": "Wavelength (nm)", "titleFontSize": 29, "titlePadding": 3}},
            "y": {"field": "v", "type": "quantitative", "scale": {"domain": [-0.012, 1.1], "nice": false, "zero": false}, "axis": {"orient": "left", "values": [0, 0.5, 1], "labelExpr": "datum.value == 0 ? '0' : datum.value == 1 ? '1' : ''", "labelFontSize": 22, "labelPadding": 18, "title": ["Norm. UC Intensity", "(a. u.)"], "titleFontSize": 25, "titleLineHeight": 32, "titlePadding": 22}},
            "color": {"field": "s", "type": "nominal", "scale": {"domain": ["Rubrene(80wt%)/PS+PdPc", "Rubrene(80wt%)/PS+PdPc +DBP", "Neat Rub +PdPc", "Neat Rub +PdPc +DBP"], "range": ["#ff8c00", "#dc0a32", "#ff8c00", "#dc0a32"]}, "legend": {"title": null}},
            "strokeDash": {"field": "s", "type": "nominal", "scale": {"domain": ["Rubrene(80wt%)/PS+PdPc", "Rubrene(80wt%)/PS+PdPc +DBP", "Neat Rub +PdPc", "Neat Rub +PdPc +DBP"], "range": [[1, 0], [1, 0], [10, 6], [10, 6]]}, "legend": {"title": null}}
          }},
        {"data": {"values": [{"wl": 412, "v": 0.91, "t": "(c)"}]}, "mark": {"type": "text", "align": "left", "baseline": "middle", "fontSize": 28, "color": "black"},
          "encoding": {
            "text": {"field": "t"},
            "x": {"field": "wl", "type": "quantitative", "scale": {"domain": [400, 800], "nice": false, "zero": false}, "axis": {"orient": "top", "values": [400, 450, 500, 550, 600, 650, 700, 750, 800], "labels": false, "title": null, "minExtent": 0, "maxExtent": 0}},
            "y": {"field": "v", "type": "quantitative", "scale": {"domain": [-0.012, 1.1], "nice": false, "zero": false}, "axis": {"orient": "right", "values": [0, 0.5, 1], "labels": false, "title": null, "minExtent": 0, "maxExtent": 0}}
          }}
      ]
    }
  ]
}
